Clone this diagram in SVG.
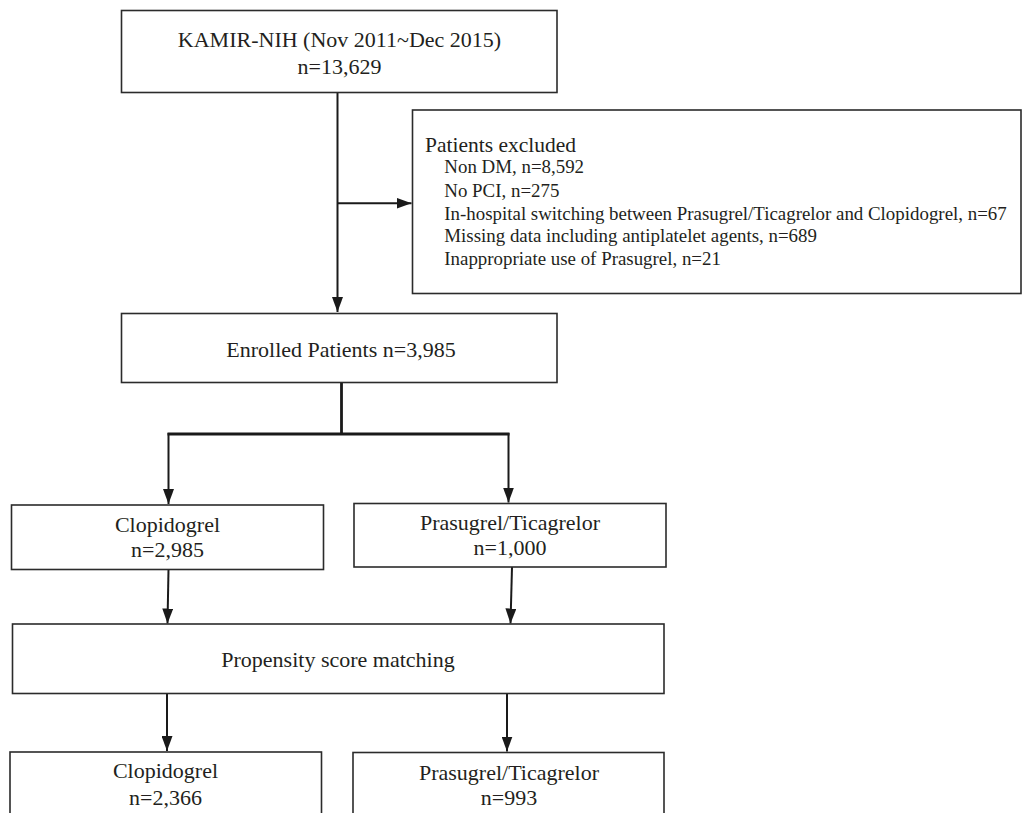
<svg xmlns="http://www.w3.org/2000/svg" width="1022" height="813" viewBox="0 0 1022 813">
<style>
.box{fill:#ffffff;stroke:#2b2b2b;stroke-width:1.6}
.t{font-family:"Liberation Serif","Times New Roman",serif;font-size:22px;fill:#231f20;text-anchor:middle}
.ex{font-family:"Liberation Serif","Times New Roman",serif;font-size:18.9px;fill:#231f20}
.exh{font-family:"Liberation Serif","Times New Roman",serif;font-size:21.5px;fill:#231f20}
.c{fill:none;stroke:#1a1a1a;stroke-width:2}
.cb{fill:none;stroke:#1a1a1a;stroke-width:2.8}
</style>
<defs>
<marker id="arr" markerUnits="userSpaceOnUse" markerWidth="15" markerHeight="11" refX="15" refY="5.5" orient="auto">
<path d="M0,0 L15,5.5 L0,11 z" fill="#1a1a1a"/>
</marker>
</defs>
<rect width="1022" height="813" fill="#ffffff"/>
<g id="connectors">
<path class="c" d="M337.5,92.7 V312" marker-end="url(#arr)"/>
<path class="c" d="M337.5,203.3 H411.5" marker-end="url(#arr)"/>
<path class="cb" d="M341.5,382.7 V434 M167.5,434 H509.5"/>
<path class="c" d="M168.5,433 V504" marker-end="url(#arr)"/>
<path class="c" d="M508.5,433 V502.5" marker-end="url(#arr)"/>
<path class="c" d="M168.5,569.5 L167.5,623.5" marker-end="url(#arr)"/>
<path class="c" d="M512,567 L510.5,623.5" marker-end="url(#arr)"/>
<path class="c" d="M167,693.5 V751" marker-end="url(#arr)"/>
<path class="c" d="M507,693.5 V751.5" marker-end="url(#arr)"/>
</g>
<g id="n-kamir">
<rect class="box" x="121.5" y="10.5" width="435.5" height="82"/>
<text class="t" x="339.5" y="47.3">KAMIR-NIH (Nov 2011~Dec 2015)</text>
<text class="t" x="339.5" y="74">n=13,629</text>
</g>
<g id="n-excluded">
<rect class="box" x="412.5" y="110" width="608.5" height="183.5"/>
<text class="exh" x="425" y="151.7">Patients excluded</text>
<text class="ex" x="444.3" y="173.3">Non DM, n=8,592</text>
<text class="ex" x="444.3" y="196.7">No PCI, n=275</text>
<text class="ex" x="444.3" y="220">In-hospital switching between Prasugrel/Ticagrelor and Clopidogrel, n=67</text>
<text class="ex" x="444.3" y="241.7">Missing data including antiplatelet agents, n=689</text>
<text class="ex" x="444.3" y="265">Inappropriate use of Prasugrel, n=21</text>
</g>
<g id="n-enrolled">
<rect class="box" x="121.5" y="313.5" width="435.5" height="69"/>
<text class="t" x="341" y="357">Enrolled Patients n=3,985</text>
</g>
<g id="n-clop1">
<rect class="box" x="11.5" y="505" width="312" height="64.5"/>
<text class="t" x="167.5" y="531.7">Clopidogrel</text>
<text class="t" x="167.5" y="556.7">n=2,985</text>
</g>
<g id="n-pras1">
<rect class="box" x="354" y="503.5" width="312" height="63.5"/>
<text class="t" x="510" y="530">Prasugrel/Ticagrelor</text>
<text class="t" x="510" y="555">n=1,000</text>
</g>
<g id="n-psm">
<rect class="box" x="12.5" y="624" width="651.5" height="69.5"/>
<text class="t" x="338" y="666.7">Propensity score matching</text>
</g>
<g id="n-clop2">
<rect class="box" x="10" y="752" width="311.5" height="70"/>
<text class="t" x="165.5" y="778.3">Clopidogrel</text>
<text class="t" x="165.5" y="805">n=2,366</text>
</g>
<g id="n-pras2">
<rect class="box" x="353" y="752.5" width="311" height="70"/>
<text class="t" x="509" y="780">Prasugrel/Ticagrelor</text>
<text class="t" x="509" y="805">n=993</text>
</g>
</svg>
